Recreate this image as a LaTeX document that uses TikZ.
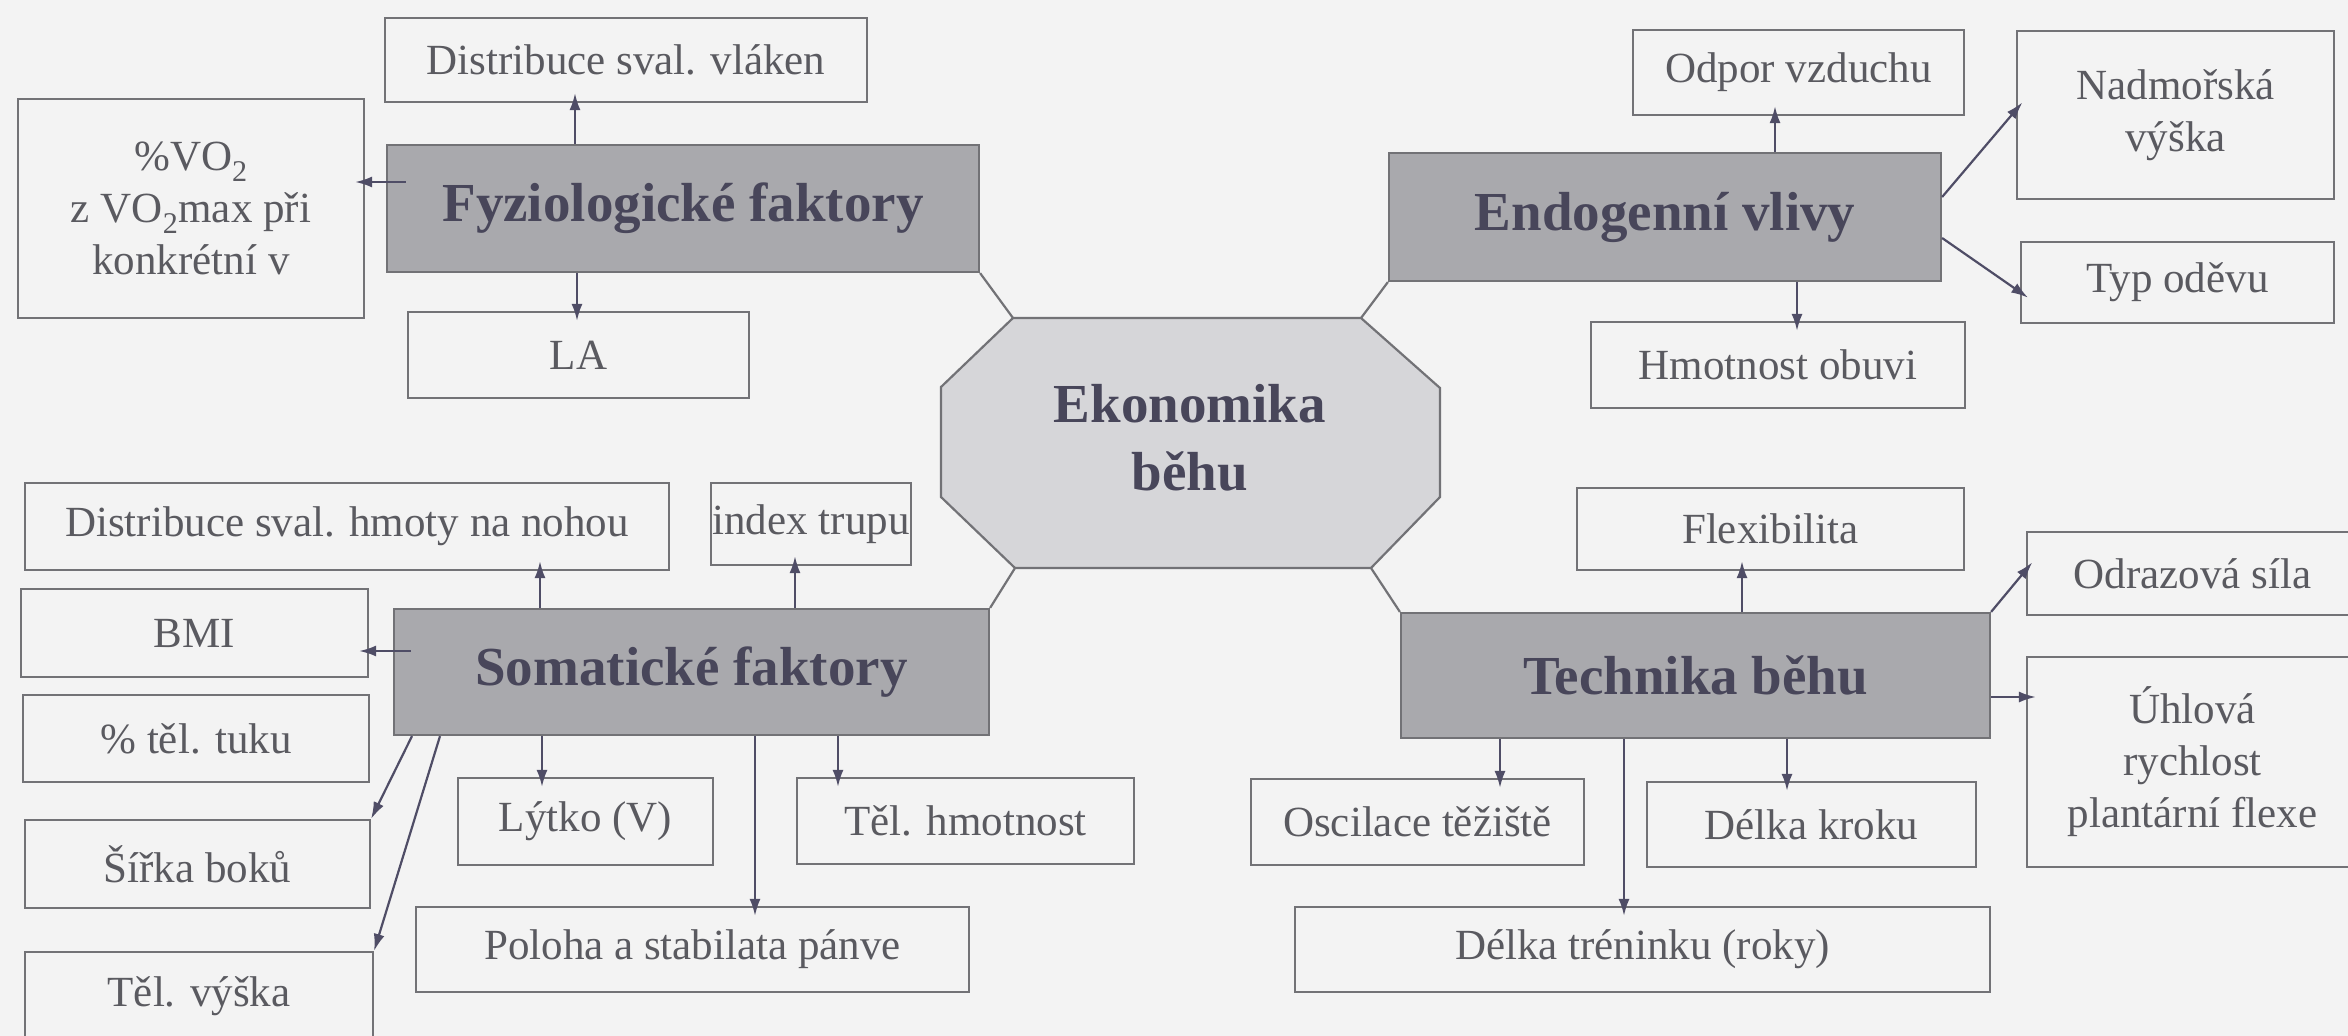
\documentclass[tikz,border=0pt]{standalone}
\usepackage{fontspec}
\setmainfont{Liberation Serif}
\usetikzlibrary{arrows.meta}
\definecolor{bgc}{HTML}{F3F3F3}
\definecolor{bordc}{HTML}{727276}
\definecolor{greyf}{HTML}{A9A9AD}
\definecolor{octf}{HTML}{D6D6D9}
\definecolor{txtc}{HTML}{5A5A60}
\definecolor{titc}{HTML}{48465A}
\definecolor{arrc}{HTML}{4F4D66}
\tikzset{
  leaf/.style={draw=bordc, line width=2.2pt, inner sep=0pt, align=center, text=txtc,
    font=\fontsize{43}{52}\selectfont},
  hub/.style={draw=bordc, line width=2.2pt, fill=greyf, inner sep=0pt, text=titc,
    font=\fontsize{55}{66}\selectfont\bfseries},
  arr/.style={draw=arrc, line width=2.2pt, -{Latex[length=17pt,width=11pt]}, shorten >=-10pt},
  link/.style={draw=bordc, line width=2.2pt},
}
\begin{document}
\begin{tikzpicture}[x=1pt,y=-1pt]
\useasboundingbox (0,0) rectangle (2348,1036);
\fill[bgc] (0,0) rectangle (2348,1036);

% ---------- top-left ----------
\node[leaf, minimum width=482pt, minimum height=84pt] (dsv) at (626,60) {Distribuce sval. vláken};
\node[leaf, minimum width=346pt, minimum height=219pt] (vo2) at (191,208.5)
  {\%VO\textsubscript{2}\\z VO\textsubscript{2}max při\\konkrétní v};
\node[hub, minimum width=592pt, minimum height=127pt] (fyz) at (683,208.5) {Fyziologické faktory};
\node[leaf, minimum width=341pt, minimum height=86pt] (la) at (578.5,355) {LA};

% ---------- top-right ----------
\node[leaf, minimum width=331pt, minimum height=85pt] (odpor) at (1798.5,72.5) {Odpor vzduchu};
\node[leaf, minimum width=317pt, minimum height=168pt] (nadm) at (2175.5,115) {Nadmořská\\výška};
\node[hub, minimum width=552pt, minimum height=128pt] (endo) at (1665,217) {Endogenní vlivy};
\node[leaf, minimum width=313pt, minimum height=81pt] (typ) at (2177.5,282.5) {Typ oděvu};
\node[leaf, minimum width=374pt, minimum height=86pt] (hmot) at (1778,365) {Hmotnost obuvi};

% ---------- bottom-left ----------
\node[leaf, minimum width=644pt, minimum height=87pt] (dhm) at (347,526.5) {Distribuce sval. hmoty na nohou};
\node[leaf, minimum width=200pt, minimum height=82pt] (idx) at (811,524) {index trupu};
\node[leaf, minimum width=347pt, minimum height=88pt] (bmi) at (194.5,633) {BMI};
\node[hub, minimum width=595pt, minimum height=126pt] (som) at (691.5,672) {Somatické faktory};
\node[leaf, minimum width=346pt, minimum height=87pt] (tuk) at (196,738.5) {\% těl. tuku};
\node[leaf, minimum width=345pt, minimum height=88pt] (sir) at (197.5,864) {Šířka boků};
\node[leaf, minimum width=348pt, minimum height=88pt] (vys) at (199,996) {Těl. výška};
\node[leaf, minimum width=255pt, minimum height=87pt] (lyt) at (585.5,821.5) {Lýtko (V)};
\node[leaf, minimum width=337pt, minimum height=86pt] (thm) at (965.5,821) {Těl. hmotnost};
\node[leaf, minimum width=553pt, minimum height=85pt] (pol) at (692.5,949.5) {Poloha a stabilata pánve};

% ---------- bottom-right ----------
\node[leaf, minimum width=387pt, minimum height=82pt] (flx) at (1770.5,529) {Flexibilita};
\node[leaf, minimum width=331pt, minimum height=83pt] (odr) at (2192.5,573.5) {Odrazová síla};
\node[hub, minimum width=589pt, minimum height=125pt] (tech) at (1695.5,675.5) {Technika běhu};
\node[leaf, minimum width=331pt, minimum height=210pt] (uhl) at (2192.5,762) {Úhlová\\rychlost\\plantární flexe};
\node[leaf, minimum width=333pt, minimum height=86pt] (osc) at (1417.5,822) {Oscilace těžiště};
\node[leaf, minimum width=329pt, minimum height=85pt] (dkr) at (1811.5,824.5) {Délka kroku};
\node[leaf, minimum width=695pt, minimum height=85pt] (dtr) at (1642.5,949.5) {Délka tréninku (roky)};

% ---------- centre octagon ----------
\coordinate (oTL) at (1013,318);
\coordinate (oTR) at (1361,318);
\coordinate (oRT) at (1440,388);
\coordinate (oRB) at (1440,497);
\coordinate (oBR) at (1371,568);
\coordinate (oBL) at (1015,568);
\coordinate (oLB) at (941,497);
\coordinate (oLT) at (941,387);
\filldraw[fill=octf, draw=bordc, line width=2.2pt]
  (oTL) -- (oTR) -- (oRT) -- (oRB) -- (oBR) -- (oBL) -- (oLB) -- (oLT) -- cycle;
\node[text=titc, align=center, inner sep=0pt, font=\fontsize{55}{68}\selectfont\bfseries]
  (eko) at (1190,438) {Ekonomika\\běhu};

\draw[link] (oTL) -- (fyz.south east);
\draw[link] (oTR) -- (endo.south west);
\draw[link] (oBL) -- (som.north east);
\draw[link] (oBR) -- (tech.north west);

% ---------- connector positions ----------
\coordinate (vx1) at (575,0);
\coordinate (vx2) at (577,0);
\coordinate (vx3) at (1775,0);
\coordinate (vx4) at (1797,0);
\coordinate (vx5) at (540,0);
\coordinate (vx6) at (795,0);
\coordinate (vx7) at (542,0);
\coordinate (vx8) at (755,0);
\coordinate (vx9) at (838,0);
\coordinate (vx10) at (1742,0);
\coordinate (vx11) at (1500,0);
\coordinate (vx12) at (1624,0);
\coordinate (vx13) at (1787,0);
\coordinate (vx14) at (412,0);
\coordinate (vx15) at (440,0);
\coordinate (hy1) at (0,182);
\coordinate (hy2) at (0,651);
\coordinate (hy3) at (0,697);
\coordinate (dy1) at (0,197);
\coordinate (dy2) at (0,110);
\coordinate (dy3) at (0,238);
\coordinate (dy4) at (0,292);
\coordinate (dy5) at (0,570);

% ---------- arrows ----------
\draw[arr] (fyz.north -| vx1) -- (dsv.south -| vx1);
\draw[arr, shorten <=-20pt] (fyz.west |- hy1) -- (vo2.east |- hy1);
\draw[arr] (fyz.south -| vx2) -- (la.north -| vx2);

\draw[arr] (endo.north -| vx3) -- (odpor.south -| vx3);
\draw[arr] (endo.south -| vx4) -- (hmot.north -| vx4);
\draw[arr] (endo.east |- dy1) -- (nadm.west |- dy2);
\draw[arr] (endo.east |- dy3) -- (typ.west |- dy4);

\draw[arr] (som.north -| vx5) -- (dhm.south -| vx5);
\draw[arr] (som.north -| vx6) -- (idx.south -| vx6);
\draw[arr, shorten <=-18pt] (som.west |- hy2) -- (bmi.east |- hy2);
\draw[arr] (som.south -| vx7) -- (lyt.north -| vx7);
\draw[arr] (som.south -| vx8) -- (pol.north -| vx8);
\draw[arr] (som.south -| vx9) -- (thm.north -| vx9);
\draw[arr, shorten >=0pt] (som.south -| vx14) -- (sir.north east);
\draw[arr, shorten >=0pt] (som.south -| vx15) -- (vys.north east);

\draw[arr] (tech.north -| vx10) -- (flx.south -| vx10);
\draw[arr] (tech.north east) -- (odr.west |- dy5);
\draw[arr] (tech.east |- hy3) -- (uhl.west |- hy3);
\draw[arr] (tech.south -| vx11) -- (osc.north -| vx11);
\draw[arr] (tech.south -| vx12) -- (dtr.north -| vx12);
\draw[arr] (tech.south -| vx13) -- (dkr.north -| vx13);
\end{tikzpicture}
\end{document}
